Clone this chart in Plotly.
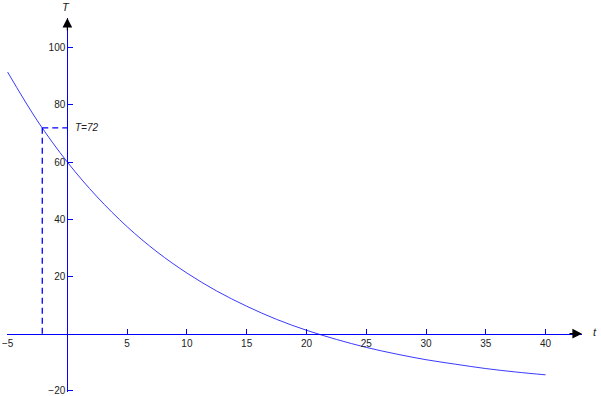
import plotly.graph_objects as go

# Data
t_vals = [-5, -2.5, 0, 2.5, 5, 7.5, 10, 12.5, 15, 17.5, 20, 22.5, 25, 27.5, 30, 32.5, 35, 37.5, 40]
T_vals = [91.5, 74.4, 60, 47.8, 37.4, 28.6, 21.2, 14.9, 9.6, 5.0, 1.2, -2.0, -4.8, -7.1, -9.1, -10.7, -12.2, -13.4, -14.4]
t_mark = -2.1
T_mark = 72
mark_label = "<i>T=72</i>"
x_ticks = [-5, 5, 10, 15, 20, 25, 30, 35, 40]
y_ticks = [-20, 20, 40, 60, 80, 100]
x_range = [-5.05, 43.05]
y_range = [-20.4, 110.4]

AXIS_BLUE = "#0000ff"

fig = go.Figure()
fig.add_trace(go.Scatter(x=t_vals, y=T_vals, mode="lines",
                         line=dict(color="#3a3aff", width=1, shape="spline"),
                         hoverinfo="skip", showlegend=False, cliponaxis=False))
# dashed guide lines
fig.add_trace(go.Scatter(x=[t_mark, t_mark], y=[T_mark, 0], mode="lines",
                         line=dict(color="#0000ff", width=1.3, dash="6px,4px"),
                         hoverinfo="skip", showlegend=False))
fig.add_trace(go.Scatter(x=[t_mark, 0], y=[T_mark, T_mark], mode="lines",
                         line=dict(color="#0000ff", width=1.3, dash="6px,4px"),
                         hoverinfo="skip", showlegend=False))

fig.add_annotation(x=0, y=T_mark, xref="x", yref="y", text=mark_label,
                   showarrow=False, xanchor="left", yanchor="middle", xshift=6,
                   font=dict(family="Liberation Sans, Arial", size=10, color="#222"))

# axis labels
fig.add_annotation(x=0, y=y_range[1], xref="x", yref="y", text="<i>T</i>",
                   showarrow=False, xanchor="center", yanchor="bottom", yshift=3, xshift=-1,
                   font=dict(family="Liberation Sans, Arial", size=11, color="#222"))
fig.add_annotation(x=x_range[1], y=0, xref="x", yref="y", text="<i>t</i>",
                   showarrow=False, xanchor="left", yanchor="middle", xshift=9, yshift=2,
                   font=dict(family="Liberation Sans, Arial", size=11, color="#222"))

# arrowheads at axis ends
fig.add_annotation(x=x_range[1], y=0, xref="x", yref="y", ax=-14, ay=0,
                   showarrow=True, arrowhead=2, arrowsize=1.6, arrowwidth=1.2,
                   arrowcolor="black", standoff=0, text="")
fig.add_annotation(x=0, y=y_range[1], xref="x", yref="y", ax=0, ay=14,
                   showarrow=True, arrowhead=2, arrowsize=1.6, arrowwidth=1.2,
                   arrowcolor="black", standoff=0, text="")

x_pos = (0 - x_range[0]) / (x_range[1] - x_range[0])
y_pos = (0 - y_range[0]) / (y_range[1] - y_range[0])

fig.update_layout(
    width=601, height=396,
    margin=dict(l=7, r=19, t=18, b=4, autoexpand=False),
    paper_bgcolor="white", plot_bgcolor="white",
    font=dict(family="Liberation Sans, Arial", size=10, color="#222"),
    xaxis=dict(range=x_range, domain=[0, 1], anchor="free", position=y_pos, automargin=False,
               showgrid=False, zeroline=False, showline=True, linecolor=AXIS_BLUE, linewidth=1.2,
               ticks="inside", ticklen=5, tickwidth=1.2, tickcolor=AXIS_BLUE,
               ticklabeloverflow="allow",
               tickvals=x_ticks, ticktext=["\u2212" + str(-v) if v < 0 else str(v) for v in x_ticks]),
    yaxis=dict(range=y_range, domain=[0, 1], anchor="free", position=x_pos, automargin=False,
               showgrid=False, zeroline=False, showline=True, linecolor=AXIS_BLUE, linewidth=1.2,
               ticks="inside", ticklen=5, tickwidth=1.2, tickcolor=AXIS_BLUE,
               ticklabeloverflow="allow",
               tickvals=y_ticks, ticktext=["\u2212" + str(-v) if v < 0 else str(v) for v in y_ticks]),
)

fig.write_html("out.html", config={"displayModeBar": False},
               post_script="document.body.style.margin='0';document.body.style.overflow='hidden';")
